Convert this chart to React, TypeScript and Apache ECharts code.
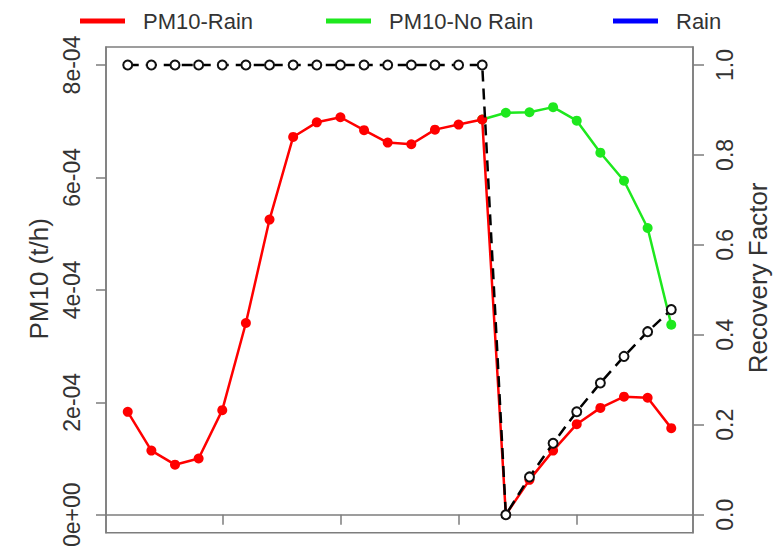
import React, { useEffect, useRef } from "react";
import * as echarts from "echarts";

const hours = [1, 2, 3, 4, 5, 6, 7, 8, 9, 10, 11, 12, 13, 14, 15, 16, 17, 18, 19, 20, 21, 22, 23, 24];
const pm10Rain = [1.83e-4, 1.14e-4, 0.89e-4, 1.0e-4, 1.86e-4, 3.41e-4, 5.25e-4, 6.72e-4, 6.98e-4, 7.07e-4, 6.84e-4, 6.62e-4, 6.59e-4, 6.85e-4, 6.94e-4, 7.03e-4, 0, 0.62e-4, 1.14e-4, 1.61e-4, 1.9e-4, 2.1e-4, 2.08e-4, 1.54e-4];
const pm10NoRain = [null, null, null, null, null, null, null, null, null, null, null, null, null, null, null, 7.03e-4, 7.15e-4, 7.16e-4, 7.25e-4, 7.01e-4, 6.44e-4, 5.94e-4, 5.1e-4, 3.38e-4];
const recoveryFactor = [1, 1, 1, 1, 1, 1, 1, 1, 1, 1, 1, 1, 1, 1, 1, 1, 0, 0.084, 0.159, 0.229, 0.293, 0.352, 0.407, 0.456];
const xTicks = [5, 10, 15, 20];
const leftTicks = [0, 2e-4, 4e-4, 6e-4, 8e-4];
const leftTickLabels = ["0e+00", "2e-04", "4e-04", "6e-04", "8e-04"];
const rightTicks = [0, 0.2, 0.4, 0.6, 0.8, 1.0];
const rightTickLabels = ["0.0", "0.2", "0.4", "0.6", "0.8", "1.0"];
const legendNames = ["PM10-Rain", "PM10-No Rain", "Rain"];

const FONT = "Liberation Sans, Arial, sans-serif";
const AXIS_COLOR = "#7d7d7d";
const TEXT_COLOR = "#333333";

function pairs(vals: (number | null)[]) {
  const out: [number, number][] = [];
  vals.forEach((v, i) => {
    if (v !== null) out.push([hours[i], v]);
  });
  return out;
}

export default function App() {
  const ref = useRef<HTMLDivElement>(null);
  useEffect(() => {
    if (!ref.current) return;
    const chart = echarts.init(ref.current, undefined, { renderer: "svg" });
    const legendBase = (name: string, left: number) => ({
      show: true,
      left,
      top: 5,
      orient: "horizontal",
      selectedMode: false,
      itemWidth: 45,
      itemHeight: 5,
      data: [{ name, icon: "rect" }],
      textStyle: { fontFamily: FONT, fontSize: 22, color: TEXT_COLOR, padding: [0, 0, 0, 13] },
    });
    chart.setOption({
      animation: false,
      backgroundColor: "#ffffff",
      legend: [
        legendBase(legendNames[0], 75),
        legendBase(legendNames[1], 321),
        legendBase(legendNames[2], 608),
      ],
      grid: {
        left: 106,
        right: 87,
        top: 47,
        bottom: 14,
        show: true,
        borderColor: AXIS_COLOR,
        borderWidth: 1.5,
        backgroundColor: "transparent",
      },
      xAxis: {
        type: "value",
        min: 0.08,
        max: 24.92,
        splitLine: { show: false },
        axisLine: { show: true, lineStyle: { color: AXIS_COLOR, width: 1.5 } },
        axisTick: { show: true, length: 10, customValues: xTicks, lineStyle: { color: AXIS_COLOR, width: 1.5 } },
        axisLabel: { show: false },
      },
      yAxis: [
        {
          type: "value",
          min: -0.32e-4,
          max: 8.32e-4,
          position: "left",
          name: "PM10 (t/h)",
          nameLocation: "middle",
          nameGap: 50,
          nameTextStyle: { fontFamily: FONT, fontSize: 26, color: TEXT_COLOR, padding: [0, 0, 0, 22] },
          splitLine: { show: false },
          axisLine: { show: true, lineStyle: { color: AXIS_COLOR, width: 1.5 } },
          axisTick: { show: true, length: 10, customValues: leftTicks, lineStyle: { color: AXIS_COLOR, width: 1.5 } },
          axisLabel: {
            customValues: leftTicks,
            rotate: 90,
            margin: 23,
            fontFamily: FONT,
            fontSize: 23,
            color: TEXT_COLOR,
            formatter: (v: number) => leftTickLabels[Math.round(v / 2e-4)] ?? "",
          },
        },
        {
          type: "value",
          min: -0.04,
          max: 1.04,
          position: "right",
          name: "Recovery Factor",
          nameLocation: "middle",
          nameGap: 52,
          nameTextStyle: { fontFamily: FONT, fontSize: 26, color: TEXT_COLOR, padding: [0, 0, 0, 24] },
          splitLine: { show: false },
          axisLine: { show: true, lineStyle: { color: AXIS_COLOR, width: 1.5 } },
          axisTick: { show: true, length: 11, customValues: rightTicks, lineStyle: { color: AXIS_COLOR, width: 1.5 } },
          axisLabel: {
            customValues: rightTicks,
            rotate: 90,
            margin: 20,
            fontFamily: FONT,
            fontSize: 23,
            color: TEXT_COLOR,
            formatter: (v: number) => rightTickLabels[Math.round(v / 0.2)] ?? "",
          },
        },
      ],
      series: [
        {
          name: "PM10-No Rain",
          type: "line",
          yAxisIndex: 0,
          data: pairs(pm10NoRain),
          symbol: "circle",
          symbolSize: 10,
          z: 2,
          color: "#1ee81e",
          lineStyle: { color: "#1ee81e", width: 2.5 },
          itemStyle: { color: "#1ee81e" },
        },
        {
          name: "PM10-Rain",
          type: "line",
          yAxisIndex: 0,
          data: pairs(pm10Rain),
          symbol: "circle",
          symbolSize: 10,
          z: 3,
          color: "#ff0000",
          lineStyle: { color: "#ff0000", width: 2.5 },
          itemStyle: { color: "#ff0000" },
        },
        {
          name: "Rain",
          type: "line",
          yAxisIndex: 1,
          data: [],
          color: "#0000ff",
          lineStyle: { color: "#0000ff", width: 2.5 },
        },
        {
          name: "Recovery Factor",
          type: "line",
          yAxisIndex: 1,
          data: pairs(recoveryFactor),
          symbol: "emptyCircle",
          symbolSize: 9,
          showAllSymbol: true,
          z: 4,
          color: "#111111",
          lineStyle: { color: "#000000", width: 2.5, type: [11, 7] },
          itemStyle: { color: "#111111", borderColor: "#111111", borderWidth: 2.2 },
        },
      ],
    });
    return () => chart.dispose();
  }, []);
  return (
    <div
      ref={ref}
      style={{ position: "fixed", left: 0, top: 0, width: 780, height: 550, background: "#fff" }}
    />
  );
}
